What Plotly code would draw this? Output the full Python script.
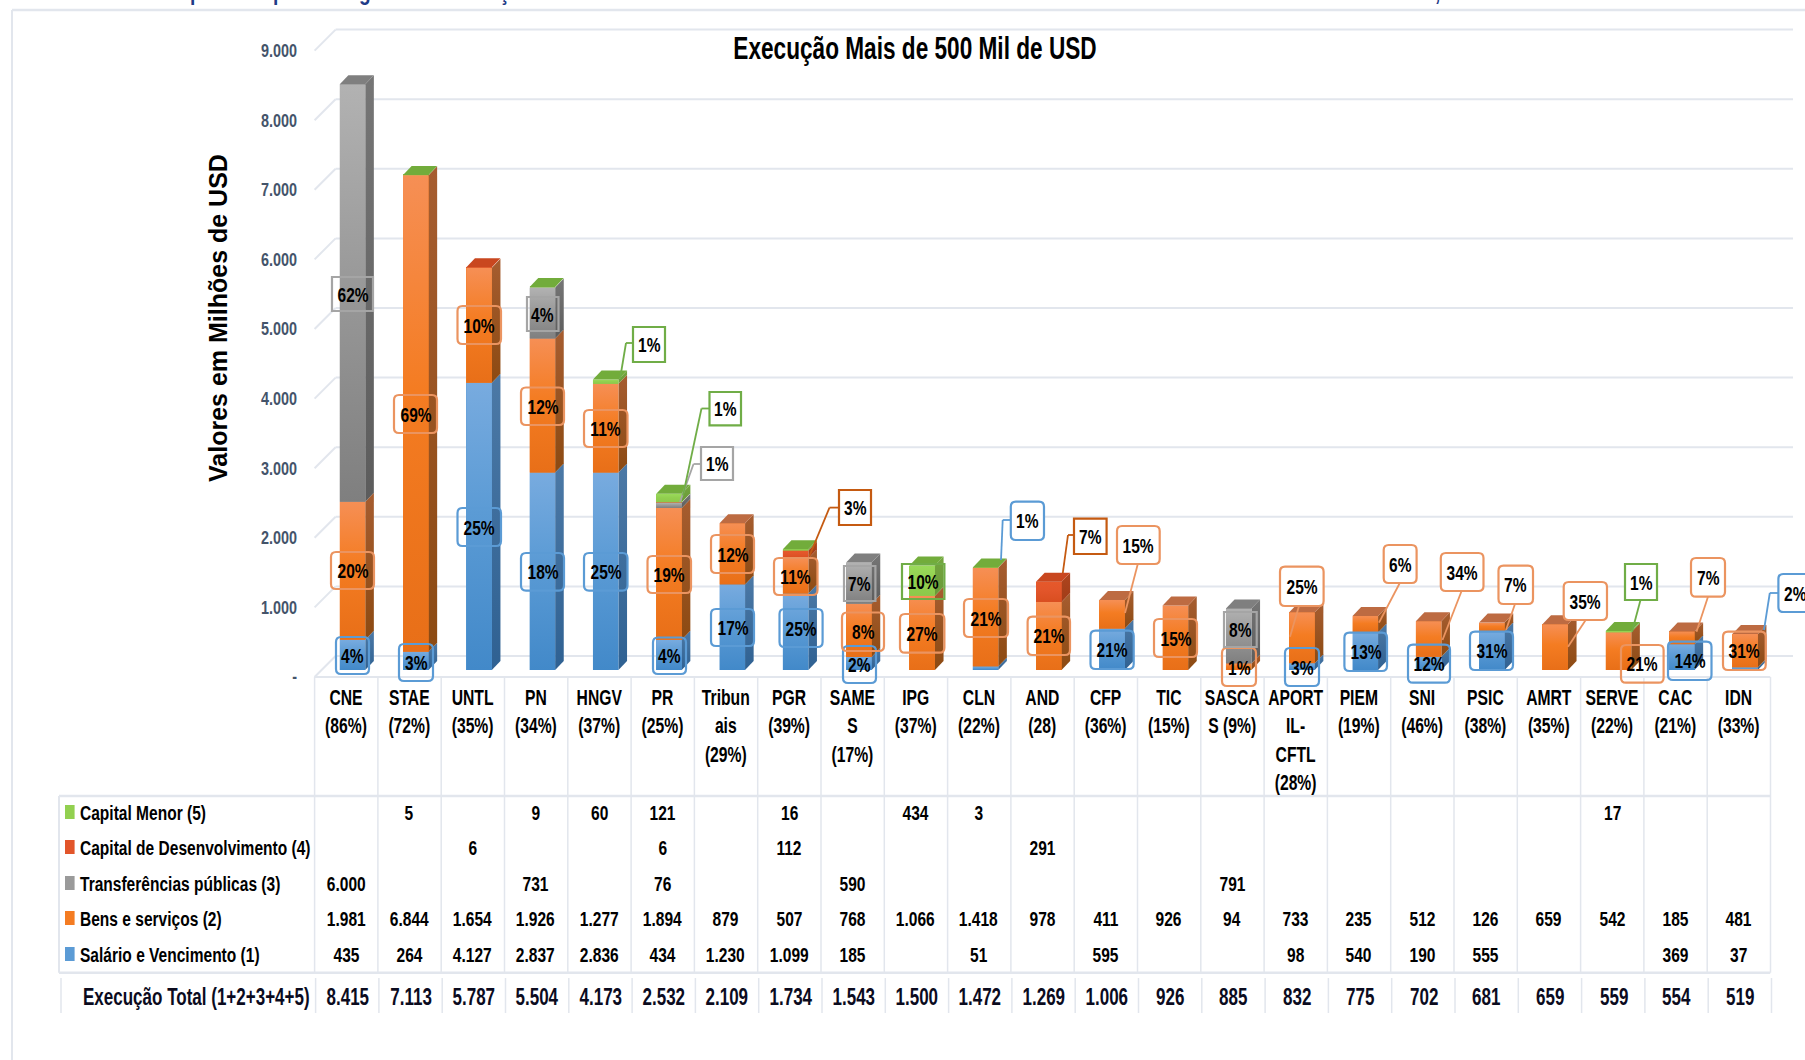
#Execution chart with pseudo 3D stacked bars and a data table under the axis
import plotly.graph_objects as go

W, H = 1805, 1060

categories = ['CNE', 'STAE', 'UNTL', 'PN', 'HNGV', 'PR', 'Tribunais', 'PGR', 'SAMES', 'IPG', 'CLN', 'AND',
              'CFP', 'TIC', 'SASCAS', 'APORTIL-CFTL', 'PIEM', 'SNI', 'PSIC', 'AMRT', 'SERVE', 'CAC', 'IDN']
tick_labels = ['CNE<br>(86%)', 'STAE<br>(72%)', 'UNTL<br>(35%)', 'PN<br>(34%)', 'HNGV<br>(37%)', 'PR<br>(25%)',
               'Tribun<br>ais<br>(29%)', 'PGR<br>(39%)', 'SAME<br>S<br>(17%)', 'IPG<br>(37%)', 'CLN<br>(22%)',
               'AND<br>(28)', 'CFP<br>(36%)', 'TIC<br>(15%)', 'SASCA<br>S (9%)', 'APORT<br>IL-<br>CFTL<br>(28%)',
               'PIEM<br>(19%)', 'SNI<br>(46%)', 'PSIC<br>(38%)', 'AMRT<br>(35%)', 'SERVE<br>(22%)', 'CAC<br>(21%)',
               'IDN<br>(33%)']

salario = [435, 264, 4127, 2837, 2836, 434, 1230, 1099, 185, None, 51, None,
           595, None, None, 98, 540, 190, 555, None, None, 369, 37]
bens = [1981, 6844, 1654, 1926, 1277, 1894, 879, 507, 768, 1066, 1418, 978,
        411, 926, 94, 733, 235, 512, 126, 659, 542, 185, 481]
transferencias = [6000, None, None, 731, None, 76, None, None, 590, None, None, None,
                  None, None, 791, None, None, None, None, None, None, None, None]
desenvolvimento = [None, None, 6, None, None, 6, None, 112, None, None, None, 291,
                   None, None, None, None, None, None, None, None, None, None, None]
menor = [None, 5, None, 9, 60, 121, None, 16, None, 434, 3, None,
         None, None, None, None, None, None, None, None, 17, None, None]
totais = [8415, 7113, 5787, 5504, 4173, 2532, 2109, 1734, 1543, 1500, 1472, 1269,
          1006, 926, 885, 832, 775, 702, 681, 659, 559, 554, 519]

pct_salario = [4, 3, 25, 18, 25, 4, 17, 25, 2, None, 1, None, 21, None, None, 3, 13, 12, 31, None, None, 14, 2]
pct_bens = [20, 69, 10, 12, 11, 19, 12, 11, 8, 27, 21, 21, 15, 15, 1, 25, 6, 34, 7, 35, 21, 7, 31]
pct_transf = [62, None, None, 4, None, 1, None, None, 7, None, None, None,
              None, None, 8, None, None, None, None, None, None, None, None]
pct_desenv = [None, None, None, None, None, None, None, 3, None, None, None, 7,
              None, None, None, None, None, None, None, None, None, None, None]
pct_menor = [None, None, None, None, 1, 1, None, None, None, 10, None, None,
             None, None, None, None, None, None, None, None, 1, None, None]

y_ticks = [0, 1000, 2000, 3000, 4000, 5000, 6000, 7000, 8000, 9000]
y_tick_text = ['-', '1.000', '2.000', '3.000', '4.000', '5.000', '6.000', '7.000', '8.000', '9.000']

# descenders of the heading above, the rest of it is cut off in the reference
heading_bits = [('p', 196), ('p', 279), ('g', 365), ('ç', 504), (',', 1437)]

FONT = 'Liberation Sans, Arial, sans-serif'
GRID = '#E2E6ED'

# series name, values, percents, gradient top/mid/bottom, side top/bottom, top face, label border, label corner
series = [
    ('Salário e Vencimento (1)', salario, pct_salario, ['#78ABDF', '#5B9BD5', '#4289C9'], ['#4C79A6', '#2F6192'],
     '#5D8FC0', '#5B9BD5', 5),
    ('Bens e serviços (2)', bens, pct_bens, ['#F68F55', '#F47C22', '#E86F18'], ['#A65D30', '#8C4A12'],
     '#BD6B42', '#EB9460', 5),
    ('Transferências públicas (3)', transferencias, pct_transf, ['#B2B2B2', '#9A9A9A', '#7F7F7F'], ['#767676', '#5C5C5C'],
     '#7F7F7F', '#A5A5A5', 0),
    ('Capital de Desenvolvimento (4)', desenvolvimento, pct_desenv, ['#E6592B', '#E2552A', '#D94E20'], ['#AE451E', '#A03C18'],
     '#C9471F', '#C55A11', 0),
    ('Capital Menor (5)', menor, pct_menor, ['#9ADA5A', '#92D050', '#8CC94A'], ['#74A53F', '#6A9A38'],
     '#72AC3B', '#70AD47', 0),
]

# pixel layout of the reference
COL0, COL_W = 346.0, 63.3    # centre of first column, column width
BAR0 = 352.5                 # centre of first bar front face
BAR_W = 25.5 / COL_W
DX, DY = 8.6, 9.0            # bar depth in pixels
PX_PER_UNIT = 0.0696
FLOOR_Y = 677.0              # y of value 0 on the axis plane
BAR_Y = 670.0                # y of value 0 on the bar plane
WALL_DX, WALL_DY = 21.0, 21.0

# label boxes x0, x1, y0, y1 and optional leader line, keyed by (series index, category index)
label_boxes = {
    (0, 0): (336, 369, 637, 674), (0, 1): (399, 433, 644, 681), (0, 2): (457.5, 501, 508, 546),
    (0, 3): (521, 564, 553, 590.6), (0, 4): (584, 627.5, 553, 590.6), (0, 5): (653, 686, 637.5, 674),
    (0, 6): (711, 754, 609, 646), (0, 7): (779.5, 822.6, 609, 647), (0, 8): (843, 876, 646, 683),
    (0, 10): (1010.8, 1044, 501.7, 540, [(1001, 560), (1002.7, 520), (1010.8, 520)]),
    (0, 12): (1090.5, 1133.7, 630.7, 669), (0, 15): (1285, 1319, 648, 686), (0, 16): (1344.4, 1387, 632.7, 671),
    (0, 17): (1408, 1450, 644.7, 682.7), (0, 18): (1470, 1513, 631.7, 670), (0, 21): (1668, 1711.5, 641.7, 680),
    (0, 22): (1778.4, 1812, 574, 612, [(1764, 630), (1769.8, 593), (1778.4, 593)]),
    (1, 0): (331, 374, 552, 589), (1, 1): (394, 437, 395, 433), (1, 2): (457.5, 501, 306, 344),
    (1, 3): (521, 564, 387.5, 425), (1, 4): (584, 627.5, 410, 447), (1, 5): (647.5, 691, 556, 593),
    (1, 6): (711, 754, 535, 573), (1, 7): (774, 817.5, 558, 595), (1, 8): (842, 884, 612.5, 651),
    (1, 9): (900, 944.4, 614, 652.7), (1, 10): (964, 1008, 599, 637), (1, 11): (1027.6, 1070, 616.7, 655),
    (1, 12): (1117, 1159.7, 526, 564, [(1125, 613), (1137.8, 564)]), (1, 13): (1154, 1197, 619, 657),
    (1, 14): (1222, 1256, 648, 686), (1, 15): (1280, 1323.6, 566.7, 606, [(1290, 636.7), (1299, 606)]),
    (1, 16): (1383.7, 1416.6, 545, 583, [(1379, 622.7), (1399.8, 583)]),
    (1, 17): (1440.8, 1483.5, 553, 591, [(1442.5, 640), (1461.6, 591)]),
    (1, 18): (1498.5, 1533, 565.7, 604, [(1506, 630), (1515, 604)]),
    (1, 19): (1563.7, 1607, 582, 620, [(1568, 646.7), (1585.7, 620)]), (1, 20): (1621, 1663.6, 645, 682.7),
    (1, 21): (1691, 1725, 558, 596.7, [(1696.5, 631.7), (1708, 596.7)]), (1, 22): (1723, 1765.7, 631.7, 670),
    (2, 0): (332, 373, 277, 311), (2, 3): (527, 558.5, 297, 331),
    (2, 5): (701, 733, 447, 480, [(680, 502), (693.5, 464), (701, 464)]),
    (2, 8): (844, 875.4, 566, 601), (2, 14): (1224, 1256.7, 612, 647),
    (3, 7): (839, 871, 490, 525, [(809.4, 556), (829.5, 507.6), (839, 507.6)]),
    (3, 11): (1074, 1106.6, 518.7, 554, [(1062.8, 573), (1068, 535), (1074, 535)]),
    (4, 4): (633, 665, 327, 362, [(620, 379), (626, 343), (633, 343)]),
    (4, 5): (709.5, 741, 392, 425.4, [(683, 495.5), (701.5, 408.5), (709.5, 408.5)]),
    (4, 9): (902, 944.4, 564, 599),
    (4, 20): (1625, 1657, 564, 600, [(1632, 631.7), (1640.5, 600)]),
}

# table rows y, top to bottom: Capital Menor ... Salario
table_rows_y = {4: 812, 3: 847, 2: 883, 1: 918, 0: 954}
TOTAL_Y = 997

# the reference text is squeezed sideways, no condensed font here so scale it after drawing
SQUEEZE_JS = """
document.body.style.margin = '0';
[['.annotation-text', 0.74], ['.xtick text', 0.72], ['.ytick text', 0.8], ['.gtitle', 0.73]].forEach(function (pair) {
    document.querySelectorAll(pair[0]).forEach(function (t) {
        if (t.textContent.indexOf('Valores') === 0) return;
        var b = t.getBBox(), a = t.getAttribute('text-anchor') || t.style.textAnchor;
        var cx = a === 'start' ? b.x : a === 'end' ? b.x + b.width : b.x + b.width / 2;
        var old = t.getAttribute('transform') || '';
        t.setAttribute('transform', old + ' translate(' + cx + ' 0) scale(' + pair[1] + ' 1) translate(' + (-cx) + ' 0)');
    });
});
"""


def px(x):
    return x / W


def py(y):
    return 1 - y / H


def fmt(v):
    if v is None:
        return ''
    return f'{v:,}'.replace(',', '.')


def box_path(x0, x1, y0, y1, r):
    # rounded rectangle as svg path in paper coordinates
    p = lambda a, b: f'{px(a):.5f},{py(b):.5f}'
    if r == 0:
        return f'M{p(x0, y0)} L{p(x1, y0)} L{p(x1, y1)} L{p(x0, y1)} Z'
    return (f'M{p(x0 + r, y0)} L{p(x1 - r, y0)} Q{p(x1, y0)} {p(x1, y0 + r)} L{p(x1, y1 - r)} '
            f'Q{p(x1, y1)} {p(x1 - r, y1)} L{p(x0 + r, y1)} Q{p(x0, y1)} {p(x0, y1 - r)} '
            f'L{p(x0, y0 + r)} Q{p(x0, y0)} {p(x0 + r, y0)} Z')


fig = go.Figure()
n = len(categories)
idx = list(range(n))

# invisible trace keeps the category axis and the value axis alive
fig.add_trace(go.Scatter(x=idx, y=totais, mode='markers', marker=dict(opacity=0), hoverinfo='skip',
                         showlegend=False, xaxis='x', yaxis='y'))

# real stacked bars, front faces
for name, vals, _, grad, _, _, _, _ in series:
    fig.add_trace(go.Bar(x=idx, y=vals, name=name, width=BAR_W, marker=dict(color=grad[1], line_width=0),
                         xaxis='x2', yaxis='y2', showlegend=False))

# pseudo 3D: gradient over front, side and top faces, all computed from the values
dx_u = DX / COL_W
dy_v = DY / PX_PER_UNIT
base = [0] * n
top_color = [None] * n
for name, vals, _, grad, side, top, _, _ in series:
    for i in idx:
        v = vals[i]
        if not v:
            continue
        b, t = base[i], base[i] + v
        xl, xr = i - BAR_W / 2, i + BAR_W / 2
        fig.add_trace(go.Scatter(
            x=[xr, xr + dx_u, xr + dx_u, xr, xr], y=[b, b + dy_v, t + dy_v, t, b], mode='lines', fill='toself',
            line_width=0, hoverinfo='skip', showlegend=False, xaxis='x2', yaxis='y2',
            fillgradient=dict(type='vertical', start=b, stop=t + dy_v,
                              colorscale=[[0, side[1]], [1, side[0]]])))
        fig.add_trace(go.Scatter(
            x=[xl, xr, xr, xl, xl], y=[b, b, t, t, b], mode='lines', fill='toself',
            line_width=0, hoverinfo='skip', showlegend=False, xaxis='x2', yaxis='y2',
            fillgradient=dict(type='vertical', start=b, stop=t,
                              colorscale=[[0, grad[2]], [0.55, grad[1]], [1, grad[0]]])))
        base[i] = t
        top_color[i] = top

for i in idx:
    xl, xr = i - BAR_W / 2, i + BAR_W / 2
    t = base[i]
    fig.add_trace(go.Scatter(
        x=[xl, xl + dx_u, xr + dx_u, xr, xl], y=[t, t + dy_v, t + dy_v, t, t], mode='lines', fill='toself',
        fillcolor=top_color[i], line_width=0, hoverinfo='skip', showlegend=False, xaxis='x2', yaxis='y2'))

shapes = []
annotations = []


def line(x0, y0, x1, y1, color=GRID, width=2, layer='below'):
    shapes.append(dict(type='line', xref='paper', yref='paper', x0=px(x0), y0=py(y0), x1=px(x1), y1=py(y1),
                       line=dict(color=color, width=width), layer=layer))


def text(x, y, s, size, color='#000000', align='center', angle=0):
    annotations.append(dict(x=px(x), y=py(y), xref='paper', yref='paper', text=s, showarrow=False, align=align,
                            xanchor=align, yanchor='middle', textangle=angle, borderpad=0,
                            font=dict(family=FONT, size=size, color=color, weight=700)))


# outer frame
line(12, 10, W, 10, width=2.5)
line(12, 10, 12, H, width=2)

# wall grid, drawn from the value ticks
LEFT = 314.6
GRID_RIGHT = 1793
for v in y_ticks:
    yf = FLOOR_Y - v * PX_PER_UNIT
    line(LEFT, yf, LEFT + WALL_DX, yf - WALL_DY)
    line(LEFT + WALL_DX, yf - WALL_DY, GRID_RIGHT, yf - WALL_DY)

# table grid
RIGHT = COL0 - COL_W / 2 + COL_W * n
TABLE_TOP, TABLE_BOTTOM = 796, 972.7
line(LEFT, FLOOR_Y, RIGHT, FLOOR_Y)
line(59, TABLE_TOP, RIGHT, TABLE_TOP, width=2.5)
line(59, TABLE_BOTTOM, RIGHT, TABLE_BOTTOM, width=2.5)
line(59, TABLE_TOP, 59, TABLE_BOTTOM)
for k in range(n + 1):
    xk = LEFT + COL_W * k
    line(xk, FLOOR_Y, xk, TABLE_BOTTOM, width=1.5)
    line(xk + 1, 978, xk + 1, 1013, width=1.5)
line(61, 978, 61, 1013, width=1.5)

# table values and keys
for s, (name, vals, _, grad, _, _, _, _) in enumerate(series):
    ry = table_rows_y[s]
    shapes.append(dict(type='rect', xref='paper', yref='paper', x0=px(65), x1=px(74.6), y0=py(ry + 7), y1=py(ry - 7),
                       fillcolor=grad[1], line_width=0, layer='above'))
    text(79, ry, name, 21, align='left')
    for i in idx:
        if vals[i] is not None:
            text(COL0 + COL_W * i, ry, fmt(vals[i]), 21)
text(82, TOTAL_Y, 'Execução Total (1+2+3+4+5)', 23, color='#0B0B1E', align='left')
for i in idx:
    text(COL0 + 1.5 + COL_W * i, TOTAL_Y, fmt(totais[i]), 23, color='#0B0B1E')

# percent labels with border boxes and leader lines
for s, (_, _, pcts, _, _, _, border, corner) in enumerate(series):
    for i in idx:
        if pcts[i] is None:
            continue
        box = label_boxes[(s, i)]
        x0, x1, y0, y1 = box[:4]
        leader = box[4] if len(box) > 4 else None
        if leader:
            for (ax, ay), (bx, by) in zip(leader, leader[1:]):
                line(ax, ay, bx, by, color=border, width=1.8, layer='above')
        shapes.append(dict(type='path', xref='paper', yref='paper', path=box_path(x0, x1, y0, y1, corner),
                           line=dict(color=border, width=2.2), layer='above',
                           fillcolor='#FFFFFF' if leader else 'rgba(0,0,0,0)'))
        text((x0 + x1) / 2, (y0 + y1) / 2, f'{pcts[i]}%', 21)

# axis title and the cut off heading
text(218, 318, 'Valores em Milhões de USD', 25, angle=-90)
for ch, hx in heading_bits:
    text(hx, -9, ch, 26, color='#1F3C88')

fig.update_layout(
    width=W, height=H, autosize=False,
    margin=dict(l=0, r=0, t=0, b=0), paper_bgcolor='white', plot_bgcolor='rgba(0,0,0,0)',
    barmode='stack', bargap=0, showlegend=False,
    title=dict(text='Execução Mais de 500 Mil de USD', x=915 / W, y=py(48), xanchor='center', yanchor='middle',
               font=dict(family=FONT, size=31, color='#000000', weight=700)),
    xaxis=dict(domain=[0, 1], range=[(0 - COL0) / COL_W, (W - COL0) / COL_W], anchor='free',
               position=(H - FLOOR_Y) / H, tickmode='array', tickvals=idx, ticktext=tick_labels, tickangle=0,
               ticks='outside', ticklen=1, tickcolor='rgba(0,0,0,0)', showgrid=False, zeroline=False, showline=False,
               tickfont=dict(family=FONT, size=21.8, color='#000000', weight=700)),
    xaxis2=dict(overlaying='x', range=[(0 - BAR0) / COL_W, (W - BAR0) / COL_W], visible=False),
    yaxis=dict(domain=[0, 1], range=[(FLOOR_Y - H) / PX_PER_UNIT, FLOOR_Y / PX_PER_UNIT], anchor='free',
               position=LEFT / W, tickmode='array', tickvals=y_ticks, ticktext=y_tick_text,
               ticks='outside', ticklen=14, tickcolor='rgba(0,0,0,0)', showgrid=False, zeroline=False, showline=False,
               tickfont=dict(family=FONT, size=18, color='#44546A', weight=700)),
    yaxis2=dict(overlaying='y', range=[(BAR_Y - H) / PX_PER_UNIT, BAR_Y / PX_PER_UNIT], visible=False),
    shapes=shapes,
    annotations=annotations,
)

fig.write_html("out.html", config={'displayModeBar': False}, post_script=SQUEEZE_JS)
